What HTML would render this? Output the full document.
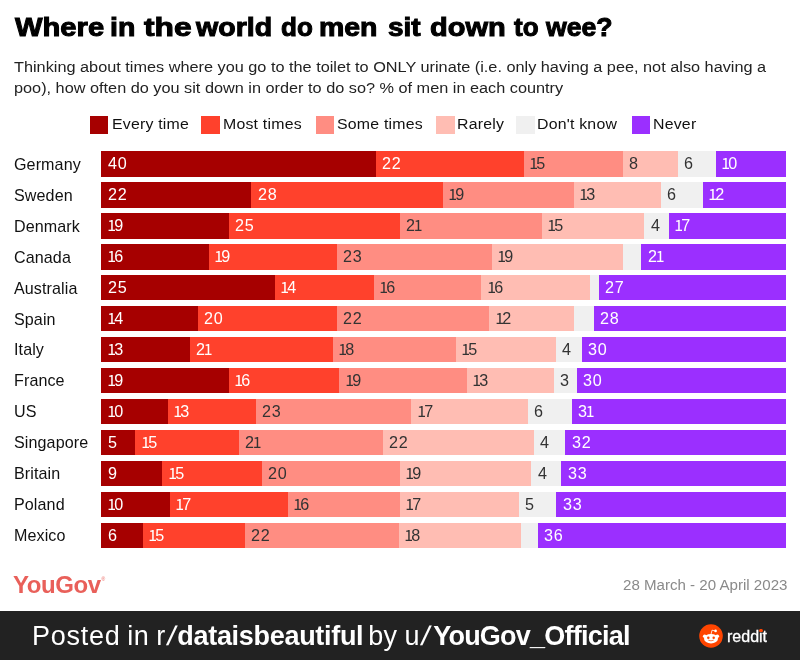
<!DOCTYPE html>
<html><head><meta charset="utf-8"><title>Where in the world do men sit down to wee?</title>
<style>
html,body{margin:0;padding:0;}
body{width:800px;height:660px;position:relative;background:#fff;overflow:hidden;font-family:"Liberation Sans",sans-serif;color:#111;}
.title{position:absolute;left:0;top:8.8px;width:800px;height:36px;font-size:26px;font-weight:bold;white-space:nowrap;line-height:36px;color:#000;-webkit-text-stroke:1px #000}
.title span{position:absolute;top:0;transform-origin:0 50%;display:block}
.sub{position:absolute;left:14px;top:55.5px;font-size:15.5px;line-height:21.7px;white-space:nowrap;color:#222;letter-spacing:0px;transform:scaleX(1.05);transform-origin:0 50%}
.sw{position:absolute;top:116.2px;width:18.4px;height:17.5px}
.lt{position:absolute;top:114px;font-size:15.2px;line-height:20px;white-space:nowrap;letter-spacing:0.2px;color:#111;transform:scaleX(1.045);transform-origin:0 50%}
.row{position:absolute;left:0;width:800px;height:25.6px}
.row .nm{position:absolute;left:14px;top:0.7px;line-height:25.6px;font-size:15.7px;letter-spacing:0.1px;color:#111;white-space:nowrap;transform:scaleX(1.025);transform-origin:0 50%}
.row b{position:absolute;top:0;height:25.6px;font-weight:normal;display:block}
.row b i{position:absolute;left:6.3px;top:0.45px;line-height:25.6px;font-style:normal;font-size:15.7px;letter-spacing:0.8px;color:#fff;transform:scaleX(1.03);transform-origin:0 50%}
.row b i u{text-decoration:none;font-family:"Noto Sans CJK SC","Liberation Sans",sans-serif;font-size:15.4px;line-height:0;margin-left:-1.9px;margin-right:-2.4px}
.row b i u.f{margin-left:-0.8px}
.row b.c0 i{left:7.6px}
.c0{background:#a60000}
.c1{background:#ff412c}
.c2{background:#ff8d82}
.c3{background:#ffbdb3}
.c4{background:#f0f0f0}
.c5{background:#9b2fff}
.row b.c2 i,.row b.c3 i,.row b.c4 i{color:#333}
.yg{position:absolute;left:13px;top:567.5px;font-size:24px;line-height:34px;font-weight:bold;color:#e9605a;letter-spacing:-0.45px;white-space:nowrap}
.yg sup{font-size:5px;font-weight:normal;position:relative;top:-6px;left:1px;vertical-align:top}
.date{position:absolute;left:623px;top:575.6px;font-size:14px;line-height:18px;color:#8a8a8a;letter-spacing:0px;white-space:nowrap;transform:scaleX(1.078);transform-origin:0 50%}
.foot{position:absolute;left:0;top:611px;width:800px;height:49px;background:#222222}
.foot .txt{position:absolute;left:0.5px;top:7.9px;font-size:27px;line-height:34px;color:#fff;white-space:nowrap}
.foot .txt span,.foot .txt b{position:absolute;top:0;white-space:pre}
.foot .txt b{font-weight:bold}
.foot .txt em{font-style:normal;display:inline-block;transform:skewX(-9deg) scaleX(1.15);transform-origin:50% 50%;margin-left:2.2px}
.foot svg{position:absolute;left:699.2px;top:13.3px}
.foot .rd{position:absolute;left:727px;top:16.2px;font-size:16px;line-height:20px;color:#fff;white-space:nowrap;-webkit-text-stroke:0.3px #fff}
.foot .dot{position:absolute;left:759.4px;top:17.6px;width:3.4px;height:3.4px;border-radius:50%;background:#ff4500}
</style></head><body>
<div class="title"><span style="left:15.25px;transform:scaleX(1.1218)">Where</span> <span style="left:110.25px;transform:scaleX(1.0945)">in</span> <span style="left:143.50px;transform:scaleX(1.2211)">the</span> <span style="left:196.00px;transform:scaleX(1.0991)">world</span> <span style="left:280.50px;transform:scaleX(1.0010)">do</span> <span style="left:319.00px;transform:scaleX(1.0943)">men</span> <span style="left:388.20px;transform:scaleX(1.0773)">sit</span> <span style="left:430.00px;transform:scaleX(1.1157)">down</span> <span style="left:514.20px;transform:scaleX(1.0016)">to</span> <span style="left:546.40px;transform:scaleX(1.0248)">wee?</span></div>
<div class="sub">Thinking about times where you go to the toilet to ONLY urinate (i.e. only having a pee, not also having a<br>poo), how often do you sit down in order to do so? % of men in each country</div>
<span class="sw c0" style="left:90px"></span><span class="lt" style="left:112.45px">Every time</span>
<span class="sw c1" style="left:201.25px"></span><span class="lt" style="left:223.2px">Most times</span>
<span class="sw c2" style="left:315.75px"></span><span class="lt" style="left:337.45px">Some times</span>
<span class="sw c3" style="left:436.25px"></span><span class="lt" style="left:457.45px">Rarely</span>
<span class="sw c4" style="left:516.25px"></span><span class="lt" style="left:537.45px">Don't know</span>
<span class="sw c5" style="left:632px"></span><span class="lt" style="left:653.2px">Never</span>
<div class="row" style="top:151.05px"><span class="nm">Germany</span>
<b class="c0" style="left:100.50px;width:275.00px"><i>40</i></b>
<b class="c1" style="left:375.50px;width:148.25px"><i>22</i></b>
<b class="c2" style="left:523.75px;width:99.25px"><i><u class="f">1</u>5</i></b>
<b class="c3" style="left:623.00px;width:54.50px"><i>8</i></b>
<b class="c4" style="left:677.50px;width:38.50px"><i>6</i></b>
<b class="c5" style="left:716.00px;width:70.00px"><i><u class="f">1</u>0</i></b>
</div>
<div class="row" style="top:182.01px"><span class="nm">Sweden</span>
<b class="c0" style="left:100.50px;width:150.75px"><i>22</i></b>
<b class="c1" style="left:251.25px;width:191.25px"><i>28</i></b>
<b class="c2" style="left:442.50px;width:131.50px"><i><u class="f">1</u>9</i></b>
<b class="c3" style="left:574.00px;width:86.50px"><i><u class="f">1</u>3</i></b>
<b class="c4" style="left:660.50px;width:42.25px"><i>6</i></b>
<b class="c5" style="left:702.75px;width:83.25px"><i><u class="f">1</u>2</i></b>
</div>
<div class="row" style="top:212.97px"><span class="nm">Denmark</span>
<b class="c0" style="left:100.50px;width:128.00px"><i><u class="f">1</u>9</i></b>
<b class="c1" style="left:228.50px;width:171.50px"><i>25</i></b>
<b class="c2" style="left:400.00px;width:142.00px"><i>2<u>1</u></i></b>
<b class="c3" style="left:542.00px;width:102.25px"><i><u class="f">1</u>5</i></b>
<b class="c4" style="left:644.25px;width:24.35px"><i>4</i></b>
<b class="c5" style="left:668.60px;width:117.40px"><i><u class="f">1</u>7</i></b>
</div>
<div class="row" style="top:243.93px"><span class="nm">Canada</span>
<b class="c0" style="left:100.50px;width:108.50px"><i><u class="f">1</u>6</i></b>
<b class="c1" style="left:209.00px;width:128.00px"><i><u class="f">1</u>9</i></b>
<b class="c2" style="left:337.00px;width:154.75px"><i>23</i></b>
<b class="c3" style="left:491.75px;width:131.25px"><i><u class="f">1</u>9</i></b>
<b class="c4" style="left:623.00px;width:18.25px"></b>
<b class="c5" style="left:641.25px;width:144.75px"><i>2<u>1</u></i></b>
</div>
<div class="row" style="top:274.89px"><span class="nm">Australia</span>
<b class="c0" style="left:100.50px;width:174.25px"><i>25</i></b>
<b class="c1" style="left:274.75px;width:99.25px"><i><u class="f">1</u>4</i></b>
<b class="c2" style="left:374.00px;width:107.25px"><i><u class="f">1</u>6</i></b>
<b class="c3" style="left:481.25px;width:108.25px"><i><u class="f">1</u>6</i></b>
<b class="c4" style="left:589.50px;width:9.50px"></b>
<b class="c5" style="left:599.00px;width:187.00px"><i>27</i></b>
</div>
<div class="row" style="top:305.85px"><span class="nm">Spain</span>
<b class="c0" style="left:100.50px;width:97.00px"><i><u class="f">1</u>4</i></b>
<b class="c1" style="left:197.50px;width:139.50px"><i>20</i></b>
<b class="c2" style="left:337.00px;width:152.25px"><i>22</i></b>
<b class="c3" style="left:489.25px;width:85.00px"><i><u class="f">1</u>2</i></b>
<b class="c4" style="left:574.25px;width:19.25px"></b>
<b class="c5" style="left:593.50px;width:192.50px"><i>28</i></b>
</div>
<div class="row" style="top:336.81px"><span class="nm">Italy</span>
<b class="c0" style="left:100.50px;width:89.00px"><i><u class="f">1</u>3</i></b>
<b class="c1" style="left:189.50px;width:143.50px"><i>2<u>1</u></i></b>
<b class="c2" style="left:333.00px;width:122.50px"><i><u class="f">1</u>8</i></b>
<b class="c3" style="left:455.50px;width:100.50px"><i><u class="f">1</u>5</i></b>
<b class="c4" style="left:556.00px;width:26.00px"><i>4</i></b>
<b class="c5" style="left:582.00px;width:204.00px"><i>30</i></b>
</div>
<div class="row" style="top:367.77px"><span class="nm">France</span>
<b class="c0" style="left:100.50px;width:128.00px"><i><u class="f">1</u>9</i></b>
<b class="c1" style="left:228.50px;width:110.75px"><i><u class="f">1</u>6</i></b>
<b class="c2" style="left:339.25px;width:127.75px"><i><u class="f">1</u>9</i></b>
<b class="c3" style="left:467.00px;width:86.50px"><i><u class="f">1</u>3</i></b>
<b class="c4" style="left:553.50px;width:23.50px"><i>3</i></b>
<b class="c5" style="left:577.00px;width:209.00px"><i>30</i></b>
</div>
<div class="row" style="top:398.73px"><span class="nm">US</span>
<b class="c0" style="left:100.50px;width:67.50px"><i><u class="f">1</u>0</i></b>
<b class="c1" style="left:168.00px;width:87.50px"><i><u class="f">1</u>3</i></b>
<b class="c2" style="left:255.50px;width:155.75px"><i>23</i></b>
<b class="c3" style="left:411.25px;width:116.75px"><i><u class="f">1</u>7</i></b>
<b class="c4" style="left:528.00px;width:43.50px"><i>6</i></b>
<b class="c5" style="left:571.50px;width:214.50px"><i>3<u>1</u></i></b>
</div>
<div class="row" style="top:429.69px"><span class="nm">Singapore</span>
<b class="c0" style="left:100.50px;width:34.75px"><i>5</i></b>
<b class="c1" style="left:135.25px;width:103.50px"><i><u class="f">1</u>5</i></b>
<b class="c2" style="left:238.75px;width:144.25px"><i>2<u>1</u></i></b>
<b class="c3" style="left:383.00px;width:150.75px"><i>22</i></b>
<b class="c4" style="left:533.75px;width:31.50px"><i>4</i></b>
<b class="c5" style="left:565.25px;width:220.75px"><i>32</i></b>
</div>
<div class="row" style="top:460.65px"><span class="nm">Britain</span>
<b class="c0" style="left:100.50px;width:61.75px"><i>9</i></b>
<b class="c1" style="left:162.25px;width:99.75px"><i><u class="f">1</u>5</i></b>
<b class="c2" style="left:262.00px;width:138.00px"><i>20</i></b>
<b class="c3" style="left:400.00px;width:131.25px"><i><u class="f">1</u>9</i></b>
<b class="c4" style="left:531.25px;width:30.00px"><i>4</i></b>
<b class="c5" style="left:561.25px;width:224.75px"><i>33</i></b>
</div>
<div class="row" style="top:491.61px"><span class="nm">Poland</span>
<b class="c0" style="left:100.50px;width:69.50px"><i><u class="f">1</u>0</i></b>
<b class="c1" style="left:170.00px;width:118.00px"><i><u class="f">1</u>7</i></b>
<b class="c2" style="left:288.00px;width:112.00px"><i><u class="f">1</u>6</i></b>
<b class="c3" style="left:400.00px;width:118.75px"><i><u class="f">1</u>7</i></b>
<b class="c4" style="left:518.75px;width:37.50px"><i>5</i></b>
<b class="c5" style="left:556.25px;width:229.75px"><i>33</i></b>
</div>
<div class="row" style="top:522.57px"><span class="nm">Mexico</span>
<b class="c0" style="left:100.50px;width:42.50px"><i>6</i></b>
<b class="c1" style="left:143.00px;width:102.00px"><i><u class="f">1</u>5</i></b>
<b class="c2" style="left:245.00px;width:154.00px"><i>22</i></b>
<b class="c3" style="left:399.00px;width:122.00px"><i><u class="f">1</u>8</i></b>
<b class="c4" style="left:521.00px;width:17.00px"></b>
<b class="c5" style="left:538.00px;width:248.00px"><i>36</i></b>
</div>
<div class="yg">YouGov<sup>®</sup></div>
<div class="date">28 March - 20 April 2023</div>
<div class="foot">
<div class="txt"><span style="left:31.6px;letter-spacing:0.7px;word-spacing:-1.4px">Posted in r<em>/</em></span><b style="left:176.8px;letter-spacing:-0.3px">dataisbeautiful</b><span style="left:360.2px;letter-spacing:0.1px"> by u<em>/</em></span><b style="left:432.7px;letter-spacing:-0.77px">YouGov_Official</b></div>
<svg width="24" height="24" viewBox="0 0 24 24"><circle cx="12" cy="12" r="11.8" fill="#ff4500"/>
<circle cx="18.3" cy="12.3" r="1.8" fill="#fff"/><circle cx="5.7" cy="12.3" r="1.8" fill="#fff"/>
<ellipse cx="12" cy="14.7" rx="7" ry="4.8" fill="#fff"/>
<circle cx="9.3" cy="13.7" r="1.25" fill="#ff4500"/><circle cx="14.7" cy="13.7" r="1.25" fill="#ff4500"/>
<path d="M9.6 16.3 Q12 17.6 14.4 16.3" stroke="#ff4500" stroke-width="0.7" fill="none" stroke-linecap="round"/>
<path d="M12 10.4 L13 6.2 L16.2 6.9" stroke="#fff" stroke-width="0.8" fill="none" stroke-linecap="round" stroke-linejoin="round"/>
<circle cx="16.6" cy="6.9" r="1.3" fill="#fff"/></svg>
<div class="rd">reddit</div><span class="dot"></span>
</div>
</body></html>
